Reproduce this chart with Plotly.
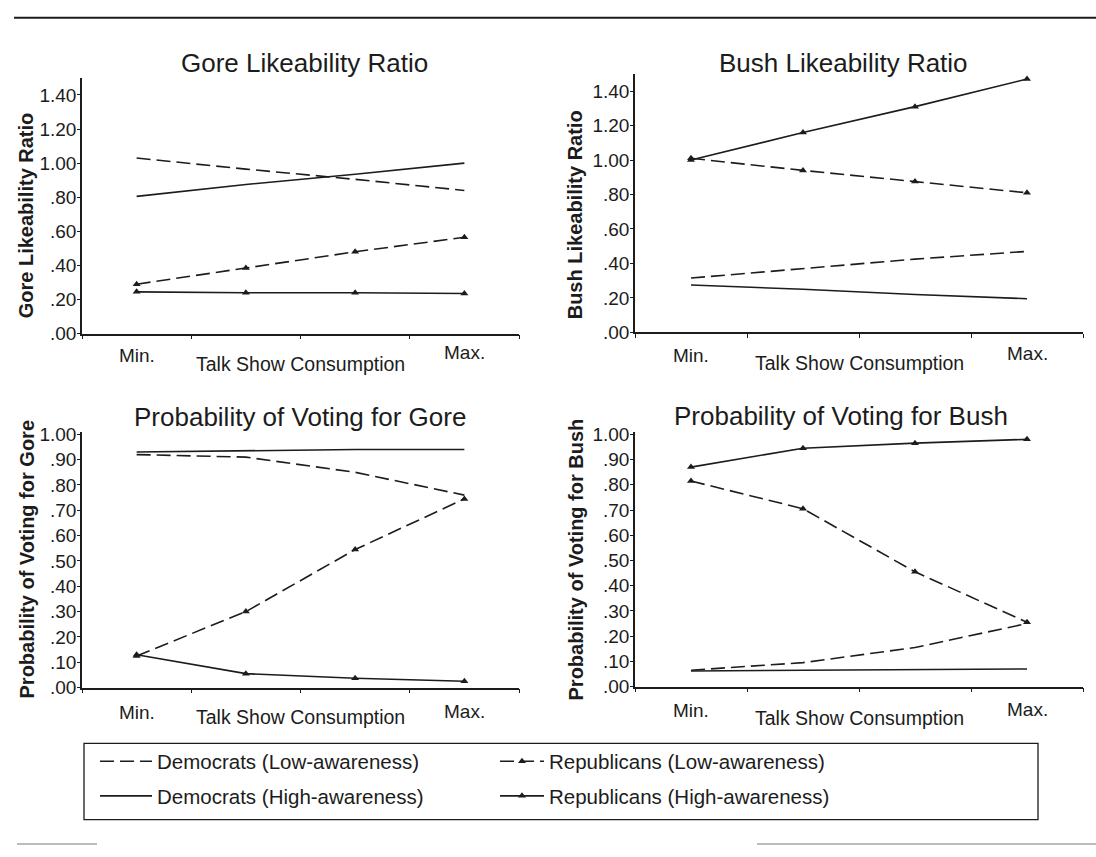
import plotly.graph_objects as go

# ---------------- data ----------------
consumption_levels = [1, 2, 3, 4]
level_labels = ["Min.", "Max."]
x_title = "Talk Show Consumption"

series_names = ["Democrats (Low-awareness)", "Republicans (Low-awareness)",
                "Democrats (High-awareness)", "Republicans (High-awareness)"]

panel_titles = ["Gore Likeability Ratio", "Bush Likeability Ratio",
                "Probability of Voting for Gore", "Probability of Voting for Bush"]
y_titles = ["Gore Likeability Ratio", "Bush Likeability Ratio",
            "Probability of Voting for Gore", "Probability of Voting for Bush"]

# Gore likeability ratio
gore_like_dem_low = [1.03, 0.965, 0.905, 0.84]
gore_like_dem_high = [0.805, 0.875, 0.935, 1.00]
gore_like_rep_low = [0.29, 0.385, 0.48, 0.565]
gore_like_rep_high = [0.245, 0.24, 0.24, 0.235]

# Bush likeability ratio
bush_like_dem_low = [0.315, 0.37, 0.425, 0.47]
bush_like_dem_high = [0.275, 0.25, 0.22, 0.195]
bush_like_rep_low = [1.01, 0.94, 0.875, 0.81]
bush_like_rep_high = [1.00, 1.16, 1.31, 1.47]

# Probability of voting for Gore
gore_vote_dem_low = [0.92, 0.91, 0.85, 0.76]
gore_vote_dem_high = [0.93, 0.935, 0.94, 0.94]
gore_vote_rep_low = [0.125, 0.30, 0.545, 0.745]
gore_vote_rep_high = [0.13, 0.055, 0.037, 0.025]

# Probability of voting for Bush
bush_vote_dem_low = [0.065, 0.095, 0.155, 0.25]
bush_vote_dem_high = [0.062, 0.065, 0.067, 0.07]
bush_vote_rep_low = [0.815, 0.705, 0.455, 0.255]
bush_vote_rep_high = [0.87, 0.945, 0.965, 0.98]

like_tickvals = [0, 0.2, 0.4, 0.6, 0.8, 1.0, 1.2, 1.4]
like_ticktext = [".00", ".20", ".40", ".60", ".80", "1.00", "1.20", "1.40"]
vote_tickvals = [0, 0.1, 0.2, 0.3, 0.4, 0.5, 0.6, 0.7, 0.8, 0.9, 1.0]
vote_ticktext = [".00", ".10", ".20", ".30", ".40", ".50", ".60", ".70", ".80", ".90", "1.00"]

# ---------------- layout helpers ----------------
W, H = 1096, 857
FONT = "Liberation Sans, Arial, sans-serif"
INK = "#1c1c1c"


def px_x(p):
    return p / W


def px_y(p):
    return 1 - p / H


panels = [
    dict(data=[gore_like_dem_low, gore_like_rep_low, gore_like_dem_high, gore_like_rep_high],
         xdom=(82, 519), ybot=333, ytop=71.5, yr=(0, 1.5), tv=like_tickvals, tt=like_ticktext,
         title_xy=(304, 56), ytitle_xy=(26, 212), lab_y=(355, 352, 364)),
    dict(data=[bush_like_dem_low, bush_like_rep_low, bush_like_dem_high, bush_like_rep_high],
         xdom=(635, 1083), ybot=331.7, ytop=67.4, yr=(0, 1.5), tv=like_tickvals, tt=like_ticktext,
         title_xy=(843, 56), ytitle_xy=(575, 212), lab_y=(355, 353, 363)),
    dict(data=[gore_vote_dem_low, gore_vote_rep_low, gore_vote_dem_high, gore_vote_rep_high],
         xdom=(82, 519), ybot=695, ytop=433.4, yr=(0, 1.01), tv=vote_tickvals, tt=vote_ticktext,
         title_xy=(300, 418), ytitle_xy=(27, 564), lab_y=(720, 719, 725)),
    dict(data=[bush_vote_dem_low, bush_vote_rep_low, bush_vote_dem_high, bush_vote_rep_high],
         xdom=(635, 1083), ybot=694, ytop=433.4, yr=(0, 1.01), tv=vote_tickvals, tt=vote_ticktext,
         title_xy=(841, 417), ytitle_xy=(576, 564), lab_y=(718, 717, 726)),
]

styles = [
    dict(dash="14px,6px", markers=False, legend="legend"),
    dict(dash="14px,6px", markers=True, legend="legend2"),
    dict(dash="solid", markers=False, legend="legend"),
    dict(dash="solid", markers=True, legend="legend2"),
]

fig = go.Figure()
annotations = []
layout_axes = {}

for i, p in enumerate(panels):
    n = "" if i == 0 else str(i + 1)
    xa, ya = "x" + n, "y" + n
    for j, (vals, st) in enumerate(zip(p["data"], styles)):
        fig.add_trace(go.Scatter(
            x=consumption_levels, y=vals, xaxis=xa, yaxis=ya,
            mode="lines+markers" if st["markers"] else "lines",
            line=dict(color=INK, width=1.6, dash=st["dash"]),
            marker=dict(symbol="triangle-up", size=7, color=INK),
            name=series_names[j], legendgroup=series_names[j], legend=st["legend"],
            showlegend=(i == 0), hoverinfo="skip"))
    layout_axes["xaxis" + n] = dict(
        domain=[px_x(p["xdom"][0]), px_x(p["xdom"][1])], anchor=ya,
        range=[0.5, 4.5], tickvals=[0.5, 1.5, 2.5, 3.5, 4.5], showticklabels=False,
        ticks="outside", ticklen=4, tickcolor=INK, tickwidth=1,
        showline=True, linecolor=INK, linewidth=1.6, showgrid=False, zeroline=False,
        fixedrange=True)
    layout_axes["yaxis" + n] = dict(
        domain=[px_y(p["ybot"]), px_y(p["ytop"])], anchor=xa,
        range=list(p["yr"]), tickvals=p["tv"], ticktext=p["tt"],
        ticks="outside", ticklen=3, tickcolor=INK, tickwidth=1, ticklabelstandoff=-3,
        tickfont=dict(family=FONT, size=19, color=INK),
        showline=True, linecolor=INK, linewidth=1.6, showgrid=False, zeroline=False,
        fixedrange=True)
    annotations.append(dict(text=panel_titles[i], xref="paper", yref="paper",
                            x=px_x(p["title_xy"][0]), y=px_y(p["title_xy"][1]),
                            xanchor="center", yanchor="middle", showarrow=False,
                            font=dict(family=FONT, size=26, color=INK)))
    annotations.append(dict(text="<b>" + y_titles[i] + "</b>", xref="paper", yref="paper",
                            x=px_x(p["ytitle_xy"][0]), y=px_y(p["ytitle_xy"][1]),
                            xanchor="center", yanchor="middle", showarrow=False, textangle=-90,
                            font=dict(family=FONT, size=20, color=INK)))
    annotations.append(dict(text=level_labels[0], xref=xa, yref="paper",
                            x=consumption_levels[0], y=px_y(p["lab_y"][0]),
                            xanchor="center", yanchor="middle", showarrow=False,
                            font=dict(family=FONT, size=19, color=INK)))
    annotations.append(dict(text=level_labels[1], xref=xa, yref="paper",
                            x=consumption_levels[-1], y=px_y(p["lab_y"][1]),
                            xanchor="center", yanchor="middle", showarrow=False,
                            font=dict(family=FONT, size=19, color=INK)))
    annotations.append(dict(text=x_title, xref=xa, yref="paper",
                            x=2.5, y=px_y(p["lab_y"][2]),
                            xanchor="center", yanchor="middle", showarrow=False,
                            font=dict(family=FONT, size=19.5, color=INK)))

shapes = [
    dict(type="line", xref="paper", yref="paper", x0=px_x(14), x1=1,
         y0=px_y(10), y1=px_y(10), line=dict(color=INK, width=2)),
    dict(type="line", xref="paper", yref="paper", x0=px_x(17), x1=px_x(97),
         y0=px_y(855), y1=px_y(855), line=dict(color="#bbbbbb", width=2)),
    dict(type="line", xref="paper", yref="paper", x0=px_x(757), x1=1,
         y0=px_y(855), y1=px_y(855), line=dict(color="#bbbbbb", width=2)),
    # legend frame
    dict(type="rect", xref="paper", yref="paper", x0=px_x(84), x1=px_x(1038),
         y0=px_y(830), y1=px_y(752), line=dict(color=INK, width=1.3)),
]

legend_common = dict(orientation="v", yanchor="top", xanchor="left",
                     font=dict(family=FONT, size=20.5, color=INK),
                     borderwidth=0, bgcolor="rgba(0,0,0,0)",
                     traceorder="grouped", tracegroupgap=5)

fig.update_layout(
    width=W, height=H, autosize=False,
    margin=dict(l=0, r=0, t=0, b=0),
    paper_bgcolor="white", plot_bgcolor="white",
    font=dict(family=FONT, color=INK),
    showlegend=True,
    legend=dict(x=px_x(95), y=px_y(750), itemwidth=52, **legend_common),
    legend2=dict(x=px_x(495), y=px_y(750), itemwidth=44, **legend_common),
    annotations=annotations,
    shapes=shapes,
    **layout_axes,
)

post = (
    "document.documentElement.style.margin='0';"
    "document.documentElement.style.padding='0';"
    "document.documentElement.style.overflow='hidden';"
    "document.body.style.margin='0';"
    "document.body.style.padding='0';"
    "document.body.style.overflow='hidden';"
    "var d=document.getElementById('{plot_id}');"
    "d.style.position='absolute';d.style.left='0px';d.style.top='0px';"
)

fig.write_html("out.html", config={"displayModeBar": False}, post_script=post)
